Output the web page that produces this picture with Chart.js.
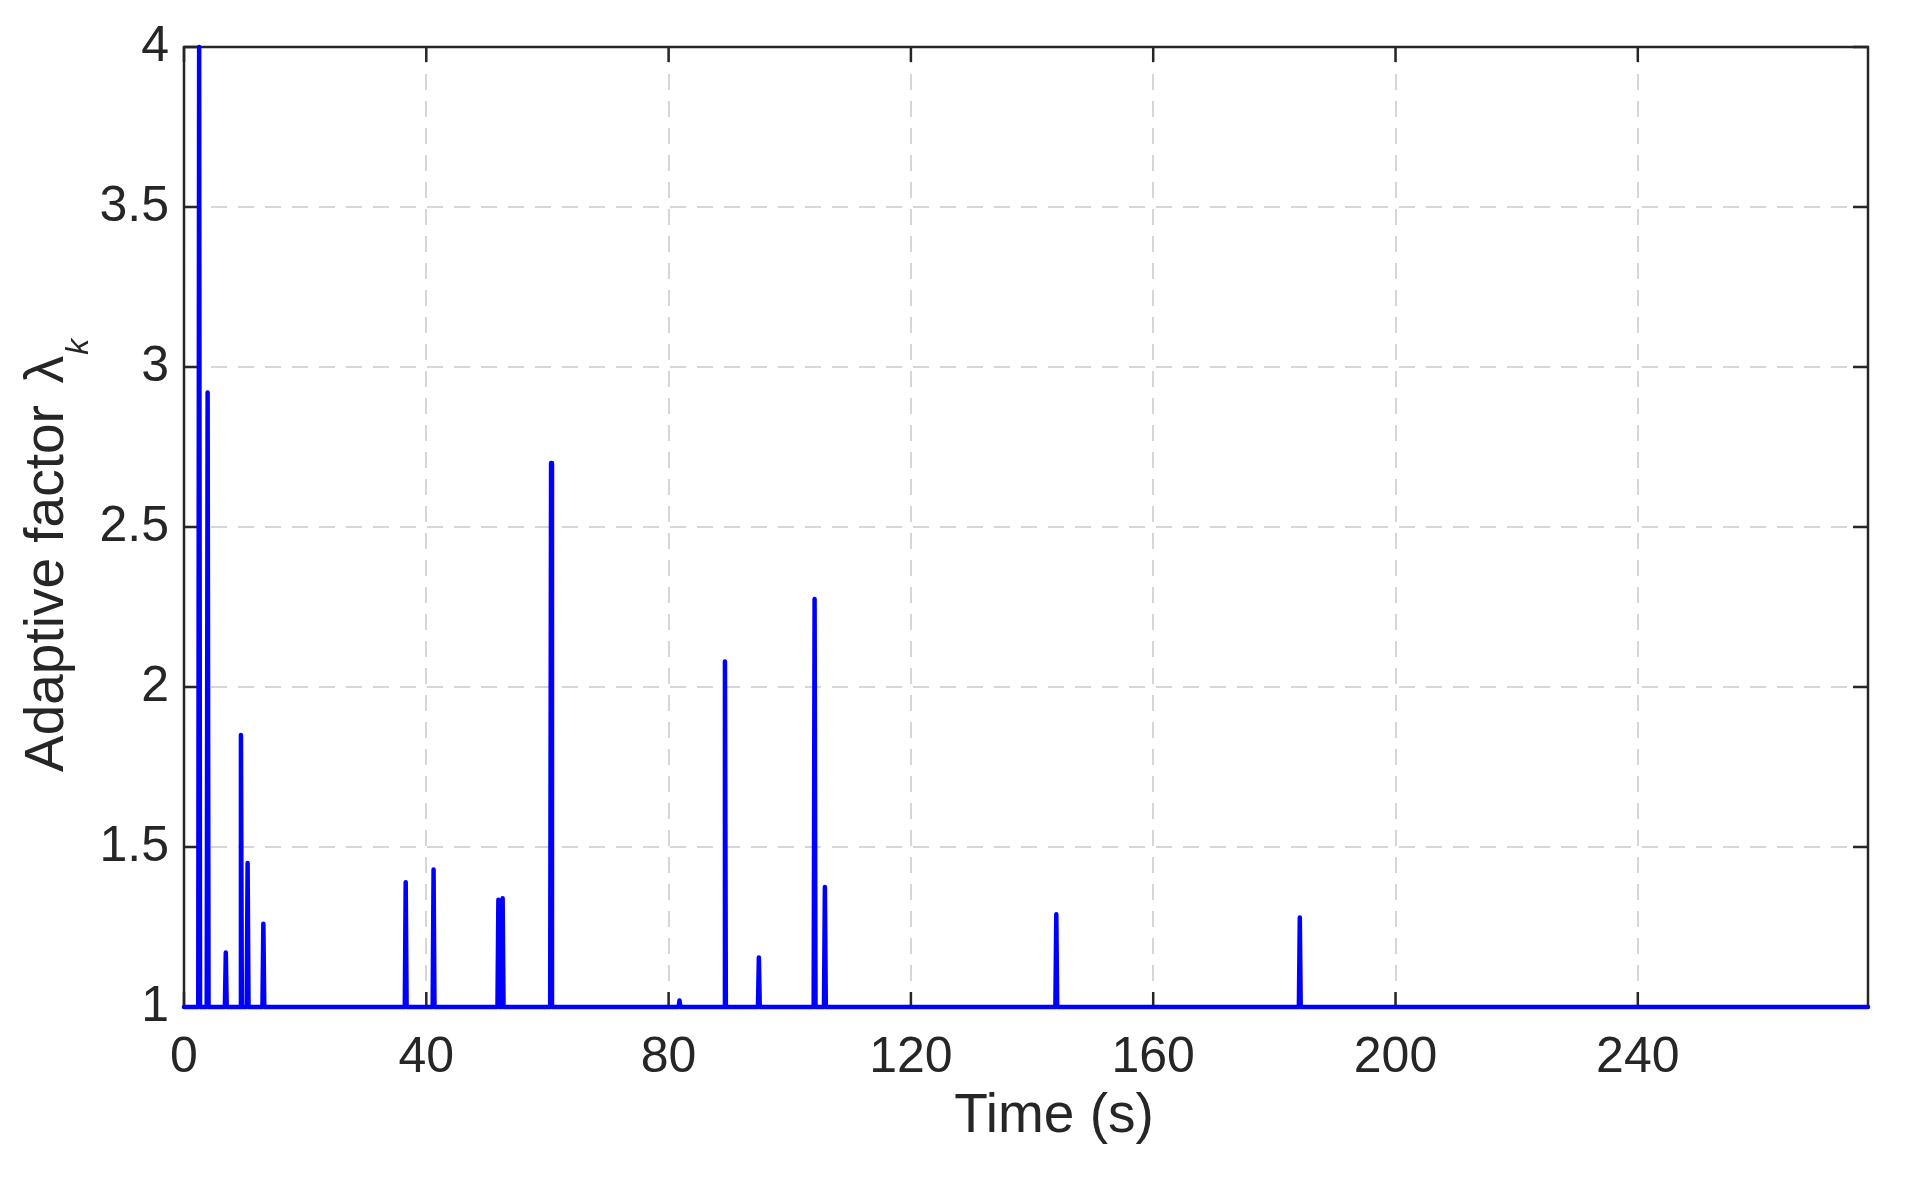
<!DOCTYPE html>
<html>
<head>
<meta charset="utf-8">
<title>Adaptive factor</title>
<script src="https://cdn.jsdelivr.net/npm/chart.js@4.4.1/dist/chart.umd.min.js"></script>
<style>
  html, body { margin: 0; padding: 0; background: #fff; }
  canvas { display: block; }
</style>
</head>
<body>
<canvas id="chart" width="1907" height="1179"></canvas>
<script>
// spikes of the adaptive factor (time in s, peak value)
const spikeTimes = [2.5, 3.9, 6.9, 9.4, 10.5, 13.1, 36.6, 41.2, 51.9, 52.6, 60.6, 81.8, 89.3, 94.9, 104.1, 105.8, 144.0, 184.2];
const spikePeaks = [4.0, 2.92, 1.17, 1.85, 1.45, 1.26, 1.39, 1.43, 1.335, 1.34, 2.70, 1.02, 2.08, 1.155, 2.275, 1.375, 1.29, 1.28];
const baseValue = 1;
const timeEnd = 278;

const xTicks = [0, 40, 80, 120, 160, 200, 240];
const yTicks = [1, 1.5, 2, 2.5, 3, 3.5, 4];

const FONT = '"Liberation Sans", Arial, Helvetica, sans-serif';
const TEXT = '#262626';

// line points: baseline with a narrow spike at each event
const halfWidth = 0.15;
const points = [{ x: 0, y: baseValue }];
spikeTimes.forEach((t, i) => {
  points.push({ x: t - halfWidth, y: baseValue });
  points.push({ x: t, y: spikePeaks[i] });
  points.push({ x: t + halfWidth, y: baseValue });
});
points.push({ x: timeEnd, y: baseValue });

// box, inward tick marks (drawn under the line)
const boxPlugin = {
  id: 'box',
  beforeDatasetsDraw(chart) {
    const { ctx, chartArea: a, scales } = chart;
    const len = 15;
    ctx.save();
    ctx.strokeStyle = TEXT;
    ctx.lineWidth = 2.5;
    ctx.beginPath();
    xTicks.forEach(v => {
      const px = scales.x.getPixelForValue(v);
      ctx.moveTo(px, a.bottom); ctx.lineTo(px, a.bottom - len);
      ctx.moveTo(px, a.top); ctx.lineTo(px, a.top + len);
    });
    yTicks.forEach(v => {
      const py = scales.y.getPixelForValue(v);
      ctx.moveTo(a.left, py); ctx.lineTo(a.left + len, py);
      ctx.moveTo(a.right, py); ctx.lineTo(a.right - len, py);
    });
    ctx.stroke();
    ctx.strokeRect(a.left, a.top, a.right - a.left, a.bottom - a.top);
    ctx.restore();
  },
  afterDraw(chart) {
    const { ctx } = chart;
    ctx.save();
    ctx.fillStyle = TEXT;
    ctx.textBaseline = 'alphabetic';

    // x title
    ctx.font = '55px ' + FONT;
    ctx.textAlign = 'center';
    ctx.fillText('Time (s)', 1054, 1132);

    // y title with lambda_k
    ctx.translate(63, 772);
    ctx.rotate(-Math.PI / 2);
    ctx.textAlign = 'left';
    ctx.font = '55px ' + FONT;
    const main = 'Adaptive factor';
    ctx.fillText(main, 0, 0);
    let pos = ctx.measureText(main).width + 22;
    ctx.fillText('\u03bb', pos, 0);
    pos += ctx.measureText('\u03bb').width + 1;
    ctx.font = 'italic 32px ' + FONT;
    ctx.fillText('k', pos, 25);
    ctx.restore();
  }
};

new Chart(document.getElementById('chart'), {
  type: 'line',
  data: {
    datasets: [{
      data: points,
      borderColor: '#0000ff',
      borderWidth: 4.5,
      pointRadius: 0,
      tension: 0,
      fill: false,
      clip: false,
      borderJoinStyle: 'round',
      borderCapStyle: 'round'
    }]
  },
  options: {
    responsive: false,
    devicePixelRatio: 1,
    animation: false,
    layout: { padding: { left: 0, top: 47, right: 39, bottom: 0 } },
    plugins: { legend: { display: false }, tooltip: { enabled: false } },
    scales: {
      x: {
        type: 'linear',
        min: 0,
        max: timeEnd,
        afterBuildTicks: s => { s.ticks = xTicks.map(v => ({ value: v })); },
        afterFit: s => { s.height = 172; },
        grid: { color: '#d6d6d6', lineWidth: 2, drawTicks: false },
        border: { display: false, dash: [16, 11] },
        ticks: {
          padding: 21,
          color: TEXT,
          font: { family: FONT, size: 50 },
          maxRotation: 0,
          callback: v => String(v)
        }
      },
      y: {
        type: 'linear',
        min: 1,
        max: 4,
        afterBuildTicks: s => { s.ticks = yTicks.map(v => ({ value: v })); },
        afterFit: s => { s.width = 184; },
        grid: { color: '#d6d6d6', lineWidth: 2, drawTicks: false },
        border: { display: false, dash: [16, 11] },
        ticks: {
          padding: 15,
          color: TEXT,
          font: { family: FONT, size: 50 },
          callback: v => String(v)
        }
      }
    }
  },
  plugins: [boxPlugin]
});
</script>
</body>
</html>
